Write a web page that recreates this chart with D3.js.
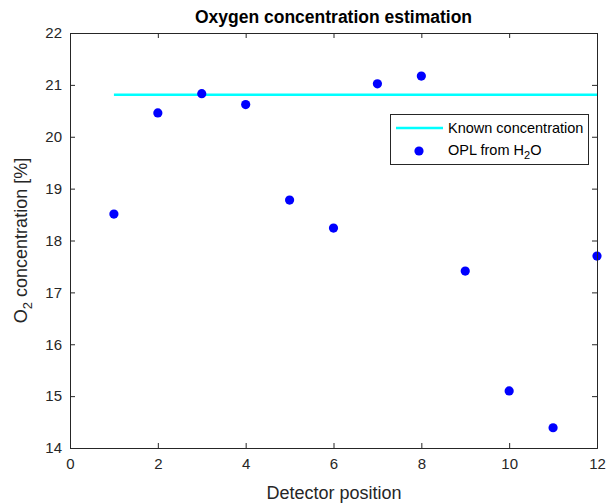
<!DOCTYPE html>
<html><head><meta charset="utf-8">
<script src="https://cdn.jsdelivr.net/npm/d3@7"></script>
<style>body{margin:0;background:#fff}svg{display:block}text{font-family:"Liberation Sans",Arial,Helvetica,sans-serif}</style>
</head><body>
<svg id="c" width="606" height="504"></svg>
<script>
const positions = [1,2,3,4,5,6,7,8,9,10,11,12];
const oplValues = [18.51,20.46,20.83,20.62,18.78,18.24,21.02,21.17,17.41,15.10,14.39,17.70];
const knownX = [1,12];
const knownValue = 20.81;
const xTicks = [0,2,4,6,8,10,12];
const yTicks = [14,15,16,17,18,19,20,21,22];

const svg = d3.select("#c");
const L=70, R=597, T=33, B=448;
const x = d3.scaleLinear().domain([0,12]).range([L,R]);
const y = d3.scaleLinear().domain([14,22]).range([B,T]);
const axisCol="#262626";

svg.append("path")
  .datum(knownX.map(v=>[v,knownValue]))
  .attr("d", d3.line().x(d=>x(d[0])).y(d=>y(d[1])))
  .attr("stroke","#00ffff").attr("stroke-width",2.5).attr("fill","none");

svg.selectAll("circle.pt").data(positions).join("circle")
  .attr("class","pt")
  .attr("cx",(d)=>x(d)).attr("cy",(d,i)=>y(oplValues[i])).attr("r",4.6).attr("fill","#0000ff");

const tl=5;
const gB=svg.append("g").attr("transform",`translate(0,${B})`).call(d3.axisBottom(x).tickValues(xTicks).tickSize(-tl).tickPadding(10));
const gT=svg.append("g").attr("transform",`translate(0,${T})`).call(d3.axisTop(x).tickValues(xTicks).tickSize(-tl).tickFormat(""));
const gL=svg.append("g").attr("transform",`translate(${L},0)`).call(d3.axisLeft(y).tickValues(yTicks).tickSize(-tl).tickPadding(8));
const gR=svg.append("g").attr("transform",`translate(${R},0)`).call(d3.axisRight(y).tickValues(yTicks).tickSize(-tl).tickFormat(""));
[gB,gT,gL,gR].forEach(g=>{
  g.select(".domain").attr("stroke",axisCol).attr("stroke-width",1);
  g.selectAll(".tick line").attr("stroke",axisCol);
  g.selectAll(".tick text").attr("fill",axisCol).style("font-size","15px").style("font-family","'Liberation Sans',Arial,sans-serif");
});
gB.selectAll(".tick text").attr("dy","0.71em");

svg.append("text").attr("x",(L+R)/2).attr("y",23).attr("text-anchor","middle")
  .style("font-size","17.5px").style("font-weight","bold").attr("fill","#000").text("Oxygen concentration estimation");
svg.append("text").attr("x",334).attr("y",499).attr("text-anchor","middle")
  .style("font-size","18px").attr("fill",axisCol).text("Detector position");
const yl=svg.append("text").attr("transform",`translate(27,${(T+B)/2}) rotate(-90)`).attr("text-anchor","middle")
  .style("font-size","18px").attr("fill",axisCol);
yl.append("tspan").text("O");
yl.append("tspan").attr("dy",5).style("font-size","13px").text("2");
yl.append("tspan").attr("dy",-5).text(" concentration [%]");

const lg=svg.append("g");
lg.append("rect").attr("x",390.5).attr("y",114.5).attr("width",198).attr("height",50)
  .attr("fill","#fff").attr("stroke",axisCol).attr("stroke-width",1);
lg.append("line").attr("x1",396).attr("x2",443).attr("y1",128).attr("y2",128)
  .attr("stroke","#00ffff").attr("stroke-width",2.5);
lg.append("text").attr("x",448).attr("y",133).style("font-size","14.5px").attr("fill","#000").text("Known concentration");
lg.append("circle").attr("cx",419).attr("cy",151).attr("r",4.6).attr("fill","#0000ff");
const t2=lg.append("text").attr("x",448).attr("y",155).style("font-size","14.5px").attr("fill","#000");
t2.append("tspan").text("OPL from H");
t2.append("tspan").attr("dy",4).style("font-size","11px").text("2");
t2.append("tspan").attr("dy",-4).text("O");
</script>
</body></html>
